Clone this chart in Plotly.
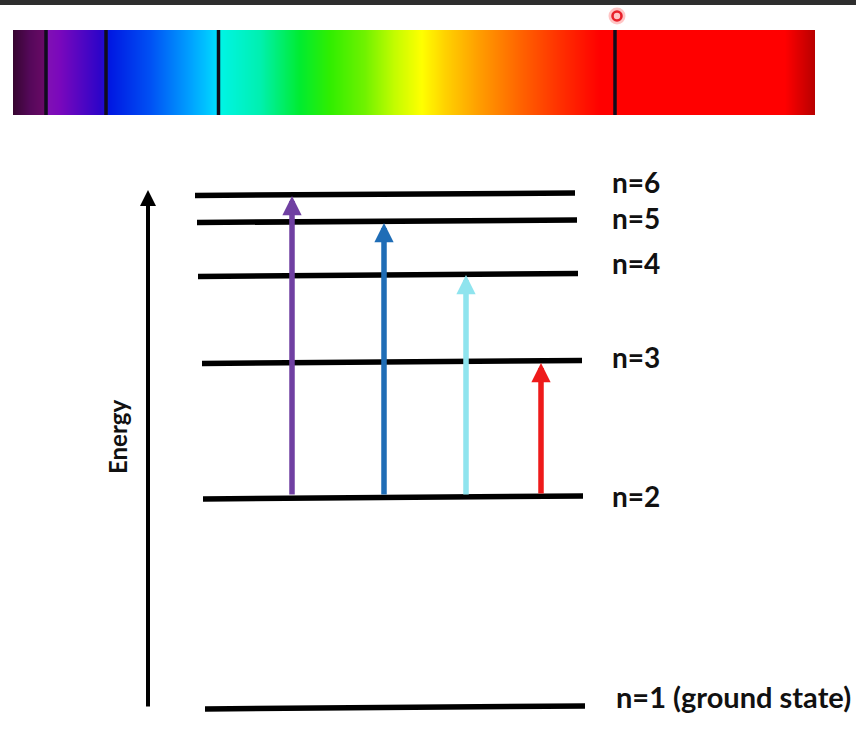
import plotly.graph_objects as go
import numpy as np

W, H = 856, 731

# --- Spectrum strip (x position -> colour stops) ---
spec_x0, spec_x1 = 13, 815
spec_y0, spec_y1 = 30, 115
spec_stops_x = [13, 30, 45, 48, 60, 100, 106, 110, 150, 190, 216, 221, 260, 300, 330, 365, 395, 422, 445, 480, 520, 560, 600, 785, 815]
spec_stops_c = ["#360530", "#55085a", "#6a0a66", "#8010b4", "#7a08bc", "#2e04c8", "#1a10d4", "#0018e2", "#0050f4",
                "#00a0ff", "#00d8ff", "#00f4e4", "#00f0b0", "#00ec30", "#30ee00", "#70f200", "#c4fc00", "#ffff00",
                "#ffd200", "#ff9c00", "#ff6400", "#ff3000", "#ff0000", "#ff0000", "#b80000"]
spectral_lines_x = [46, 106, 218.5, 615]

# --- Energy levels ---
level_names = ["n=1 (ground state)", "n=2", "n=3", "n=4", "n=5", "n=6"]
level_x_left = [205, 203, 202, 198, 197, 195]
level_x_right = [585, 583, 582, 578, 577, 575]
level_y_left = [709, 499, 363.5, 276.5, 222.5, 195.5]
level_y_right = [706, 496, 360.5, 273.5, 220, 193]
label_x = [614, 610, 610, 610, 610, 610]
label_y = [696, 496, 357, 263, 218, 182]
label_size = [29, 28, 28, 28, 28, 28]

# --- Transitions (from n=2 upward) ---
trans_x = [292, 384, 466, 541]
trans_from_y = [496, 496, 496, 495]
trans_to_y = [196, 223, 275, 363]
trans_colors = ["#7040a2", "#1f6db6", "#8fe4ee", "#ee1a1a"]

# --- Energy axis ---
energy_axis_x = 148
energy_axis_y0 = 708
energy_axis_y1 = 190

fig = go.Figure()

# spectrum gradient as a 1px-column heatmap
cols = np.arange(spec_x0 + 0.5, spec_x1, 1.0)
cscale = [[(sx - spec_x0) / (spec_x1 - spec_x0), c] for sx, c in zip(spec_stops_x, spec_stops_c)]
fig.add_trace(go.Heatmap(x=cols, y=[spec_y0, spec_y1], z=[cols], zmin=spec_x0, zmax=spec_x1,
                         colorscale=cscale, showscale=False, hoverinfo="skip"))
for lx in spectral_lines_x:
    fig.add_trace(go.Scatter(x=[lx, lx], y=[spec_y0, spec_y1], mode="lines",
                             line=dict(color="#100c1c", width=3.5), hoverinfo="skip", showlegend=False))

# energy levels
for i in range(len(level_names)):
    fig.add_trace(go.Scatter(x=[level_x_left[i], level_x_right[i]], y=[level_y_left[i], level_y_right[i]],
                             mode="lines", line=dict(color="#000000", width=5.5),
                             hoverinfo="skip", showlegend=False))
    fig.add_annotation(x=label_x[i], y=label_y[i], text=level_names[i], showarrow=False,
                       xanchor="left", yanchor="middle",
                       font=dict(family="Lato", size=label_size[i], color="#111111", weight="bold"))

# transitions
for i in range(len(trans_x)):
    fig.add_annotation(x=trans_x[i], y=trans_to_y[i], ax=trans_x[i], ay=trans_from_y[i],
                       xref="x", yref="y", axref="x", ayref="y", text="", showarrow=True,
                       arrowhead=2, arrowsize=0.7, arrowwidth=5.5, arrowcolor=trans_colors[i])

# energy axis arrow
fig.add_annotation(x=energy_axis_x, y=energy_axis_y1, ax=energy_axis_x, ay=energy_axis_y0,
                   xref="x", yref="y", axref="x", ayref="y", text="", showarrow=True,
                   arrowhead=2, arrowsize=0.8, arrowwidth=4, arrowcolor="#000000")
fig.add_annotation(x=117, y=437, text="Energy", showarrow=False, textangle=-90,
                   xanchor="center", yanchor="middle",
                   font=dict(family="Lato", size=24, color="#111111", weight="bold"))

# screenshot artefacts: top dark strip and cursor marker
fig.add_shape(type="rect", x0=0, x1=W, y0=0, y1=5, fillcolor="#2e2e2e", line_width=0, layer="above")
fig.add_trace(go.Scatter(x=[617], y=[16], mode="markers",
                         marker=dict(size=17, color="rgba(255,90,90,0.35)", line_width=0),
                         hoverinfo="skip", showlegend=False))
fig.add_trace(go.Scatter(x=[617], y=[16], mode="markers",
                         marker=dict(size=9, symbol="circle-open", color="#e8202a", line=dict(width=2.6, color="#e8202a")),
                         hoverinfo="skip", showlegend=False))

fig.update_layout(width=W, height=H, margin=dict(l=0, r=0, t=0, b=0),
                  paper_bgcolor="white", plot_bgcolor="white", showlegend=False,
                  xaxis=dict(range=[0, W], visible=False, fixedrange=True),
                  yaxis=dict(range=[H, 0], visible=False, fixedrange=True))
fig.write_html("out.html", config={"displayModeBar": False},
               post_script="document.body.style.margin='0';document.body.style.overflow='hidden';")
